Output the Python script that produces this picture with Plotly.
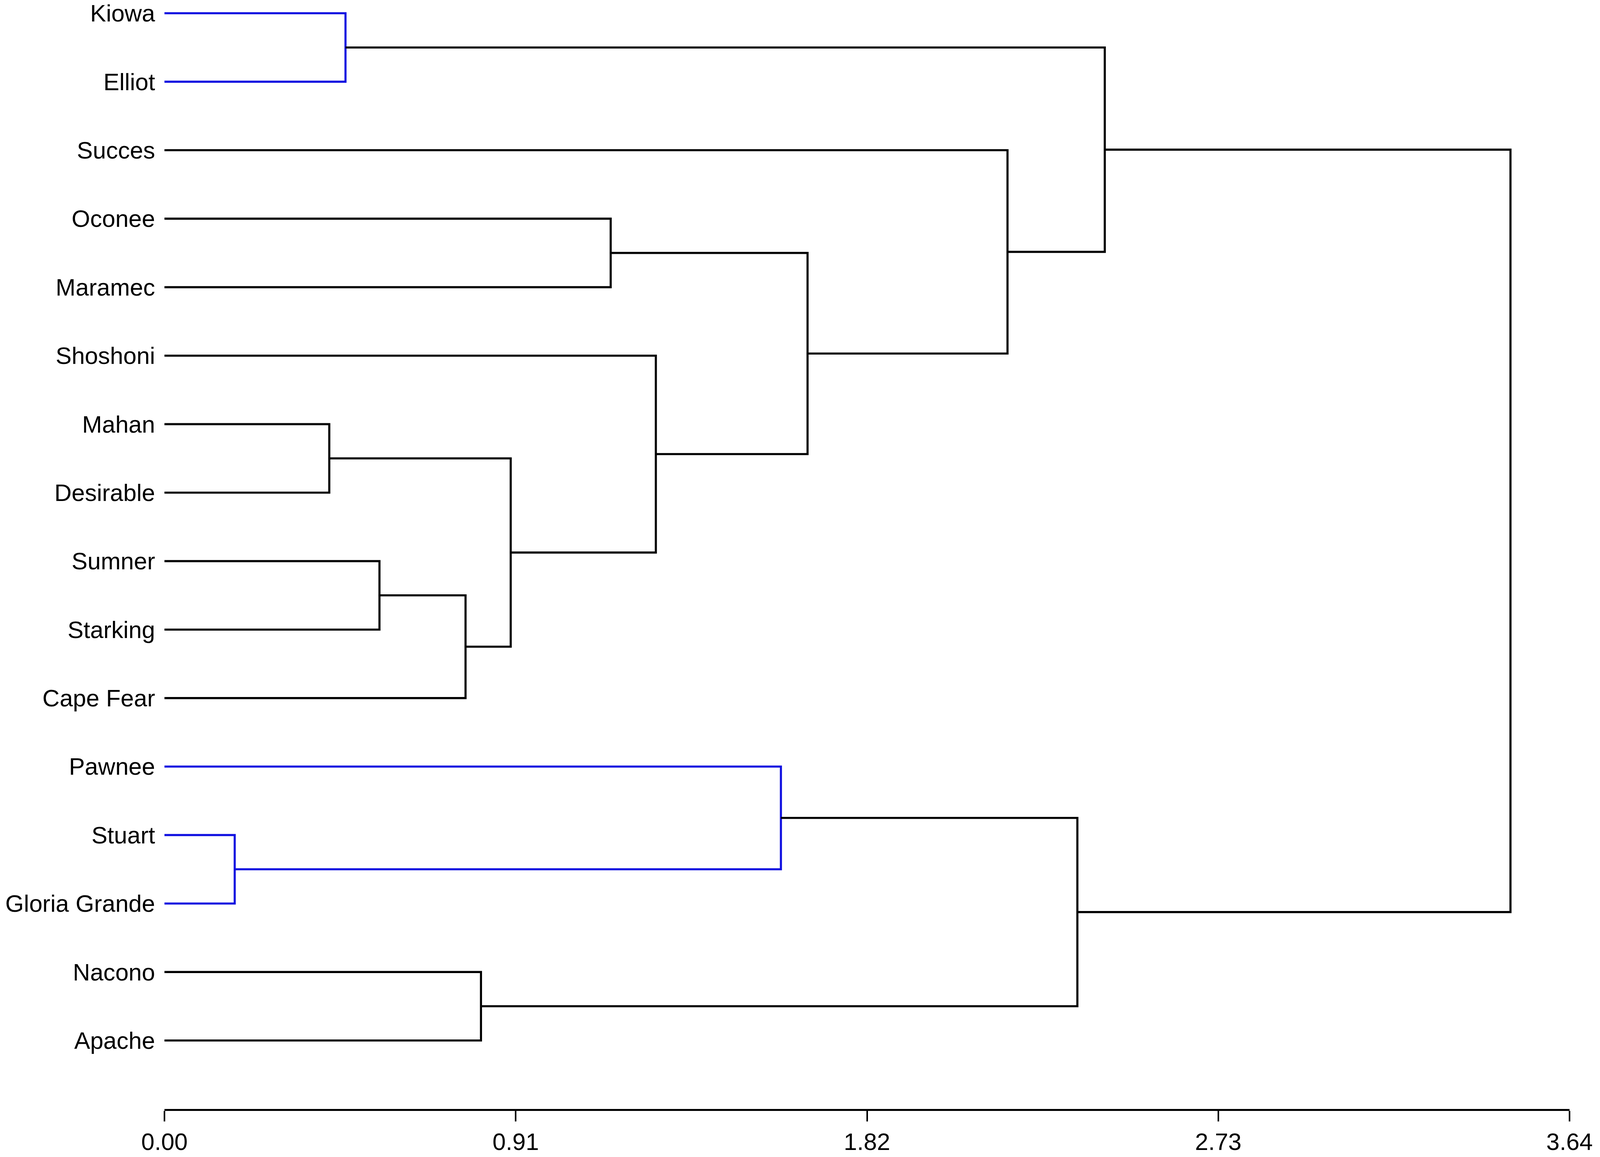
import plotly.graph_objects as go

# Leaves, top to bottom
leaves = ["Kiowa", "Elliot", "Succes", "Oconee", "Maramec", "Shoshoni", "Mahan",
          "Desirable", "Sumner", "Starking", "Cape Fear", "Pawnee", "Stuart",
          "Gloria Grande", "Nacono", "Apache"]

# Merges: (child_a, child_b) node ids; leaves are 0..15, new clusters 16, 17, ...
merge_left = [0, 3, 6, 8, 19, 18, 5, 17, 2, 16, 12, 11, 14, 27, 25]
merge_right = [1, 4, 7, 9, 10, 20, 21, 22, 23, 24, 13, 26, 15, 28, 29]
merge_height = [0.469, 1.156, 0.427, 0.557, 0.780, 0.897, 1.273, 1.666, 2.184,
                2.436, 0.182, 1.597, 0.820, 2.365, 3.487]
merge_color = ["blue", "black", "black", "black", "black", "black", "black", "black",
               "black", "black", "blue", "blue", "black", "black", "black"]

tick_vals = [0.0, 0.91, 1.82, 2.73, 3.64]
tick_text = ["0.00", "0.91", "1.82", "2.73", "3.64"]

COLORS = {"blue": "#1010e0", "black": "#000000"}

n = len(leaves)
node_y = {i: float(i) for i in range(n)}
node_h = {i: 0.0 for i in range(n)}

segs = {"blue": ([], []), "black": ([], [])}
for k, (a, b, h, c) in enumerate(zip(merge_left, merge_right, merge_height, merge_color)):
    nid = n + k
    ya, yb = node_y[a], node_y[b]
    xs, ys = segs[c]
    xs += [node_h[a], h, h, node_h[b], None]
    ys += [ya, ya, yb, yb, None]
    node_y[nid] = (ya + yb) / 2.0
    node_h[nid] = h

fig = go.Figure()
for c, (xs, ys) in segs.items():
    fig.add_trace(go.Scatter(x=xs, y=ys, mode="lines",
                             line=dict(color=COLORS[c], width=6),
                             cliponaxis=False, showlegend=False, hoverinfo="skip"))

font_family = "Liberation Sans, Arial, sans-serif"
fig.update_layout(
    margin=dict(l=469, r=87, t=0, b=123),
    paper_bgcolor="white", plot_bgcolor="white",
    font=dict(family=font_family, size=68, color="black"),
    xaxis=dict(range=[0, 3.64], tickvals=tick_vals, ticktext=tick_text,
               showline=True, linecolor="black", linewidth=6,
               ticks="outside", ticklen=30, tickwidth=5, tickcolor="black",
               showgrid=False, zeroline=False, ticklabeloverflow="allow",
               tickfont=dict(family=font_family, size=68, color="black")),
    yaxis=dict(range=[16.0, -0.182], tickvals=list(range(n)), ticktext=leaves,
               showline=False, ticks="", showgrid=False, zeroline=False,
               ticklabelstandoff=26, ticklabeloverflow="allow",
               tickfont=dict(family=font_family, size=68, color="black")),
)

# Fit the figure to the actual browser viewport, scaling pixel-based sizes.
post_js = """
var gd = document.getElementById('{plot_id}');
document.documentElement.style.margin = '0';
document.body.style.margin = '0';
document.documentElement.style.overflow = 'hidden';
document.body.style.overflow = 'hidden';
var W = window.innerWidth, H = window.innerHeight;
var s = W / 4562, sv = H / 2963;
var f = Math.min(s, sv);
Plotly.update(gd, {'line.width': 6 * f}, {
  width: W, height: H,
  'margin.l': Math.round(469 * s), 'margin.r': Math.round(87 * s),
  'margin.t': 0, 'margin.b': Math.round(123 * sv),
  'xaxis.tickfont.size': 68 * f, 'yaxis.tickfont.size': 68 * f,
  'xaxis.linewidth': 6 * f, 'xaxis.ticklen': Math.round(30 * f),
  'xaxis.tickwidth': 5 * f,
  'yaxis.ticklabelstandoff': Math.round(26 * f)
});
"""

fig.write_html("out.html", post_script=post_js, config={"displayModeBar": False})
